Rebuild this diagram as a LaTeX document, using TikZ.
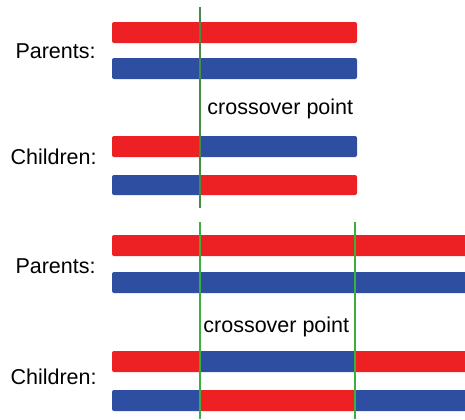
\documentclass[tikz,border=0pt]{standalone}
\usepackage{fontspec}
\setmainfont{Liberation Sans}
\definecolor{barred}{RGB}{237,32,36}
\definecolor{barblue}{RGB}{46,79,161}
\definecolor{cutgreen}{RGB}{60,175,60}
\definecolor{cutdark}{RGB}{70,140,70}
\tikzset{
  lbl/.style={font=\fontsize{10.75}{13}\selectfont, inner sep=0pt},
  redbar/.style={fill=barred, rounded corners=1pt},
  bluebar/.style={fill=barblue, rounded corners=1pt},
  cutline/.style={draw=cutgreen, line width=1pt}
}
\begin{document}
\begin{tikzpicture}[x=0.5pt,y=-0.5pt]
    \useasboundingbox (0,0) rectangle (465,419);
    % one crossover point
    \node[lbl, anchor=east] (par1) at (96,51) {Parents:};
    \node[lbl, anchor=east] (chi1) at (97,157) {Children:};
    \fill[redbar] (112,22) rectangle (357,43);
    \fill[bluebar] (112,58) rectangle (357,79);
    \fill[redbar] (112,136) rectangle (201,157);
    \fill[bluebar] (199,136) rectangle (357,157);
    \fill[bluebar] (112,175) rectangle (201,195);
    \fill[redbar] (199,175) rectangle (357,195);
    \node[lbl, anchor=base west] (cp1) at (207,114) {crossover point};
    \draw[cutline, draw=cutdark] (200,7) -- (200,208);
    % two crossover points
    \node[lbl, anchor=east] (par2) at (96,266) {Parents:};
    \node[lbl, anchor=east] (chi2) at (97,377) {Children:};
    \fill[redbar] (112,235) rectangle (470,256);
    \fill[bluebar] (112,272) rectangle (470,293);
    \fill[redbar] (112,351) rectangle (201,372);
    \fill[bluebar] (199,351) rectangle (356,372);
    \fill[redbar] (354,351) rectangle (470,372);
    \fill[bluebar] (112,390) rectangle (201,411);
    \fill[redbar] (199,390) rectangle (356,411);
    \fill[bluebar] (354,390) rectangle (470,411);
    \node[lbl, anchor=base west] (cp2) at (203,332) {crossover point};
    \draw[cutline] (200,222) -- (200,419);
    \draw[cutline] (355,222) -- (355,419);
\end{tikzpicture}
\end{document}
